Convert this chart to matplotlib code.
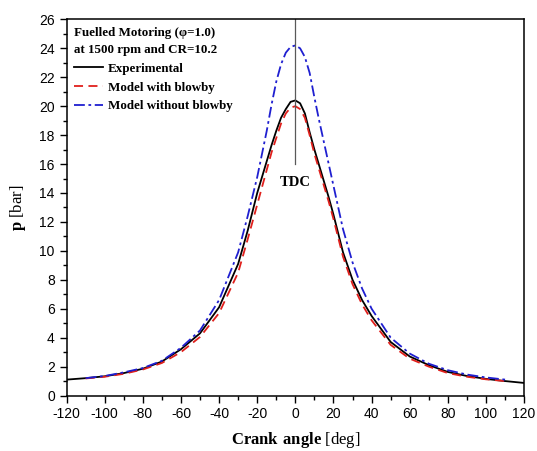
### in-cylinder pressure vs crank angle, fuelled motoring case
import numpy as np
import matplotlib.pyplot as plt

plt.rcParams['mathtext.fontset'] = 'custom'
plt.rcParams['mathtext.rm'] = 'Liberation Serif'
plt.rcParams['mathtext.bf'] = 'Liberation Serif:bold'
plt.rcParams['axes.unicode_minus'] = False

# measured trace
exp_ca = [-120, -110, -100, -90, -80, -70, -60, -50, -40, -30, -25, -20, -17.5, -15, -12.5,
          -10, -7.5, -5, -2.5, 0, 2.5, 5, 7.5, 10, 12.5, 15, 17.5, 20, 25, 30, 35, 40,
          50, 60, 70, 80, 90, 100, 110, 120]
exp_p = [1.1, 1.2, 1.33, 1.55, 1.85, 2.35, 3.2, 4.3, 6.1, 9.1, 11.4, 14.0, 15.1, 16.2, 17.3,
         18.3, 19.2, 19.8, 20.3, 20.4, 20.2, 19.5, 18.2, 17.0, 15.9, 14.8, 13.7, 12.5, 9.9, 8.0, 6.6, 5.5,
         3.7, 2.7, 2.1, 1.63, 1.35, 1.15, 1.0, 0.87]

# model including blowby losses
blow_ca = [-110, -100, -90, -80, -70, -60, -50, -40, -30, -25, -20, -17.5, -15, -12.5,
           -10, -7.5, -5, -2.5, 0, 2.5, 5, 7.5, 10, 12.5, 15, 17.5, 20, 25, 30, 35, 40,
           50, 60, 70, 80, 90, 100, 110]
blow_p = [1.18, 1.3, 1.5, 1.8, 2.25, 3.0, 4.05, 5.7, 8.5, 10.8, 13.2, 14.4, 15.6, 16.8,
          17.8, 18.8, 19.5, 19.9, 20.0, 19.8, 19.2, 18.0, 16.7, 15.6, 14.5, 13.4, 12.2, 9.6, 7.7, 6.3, 5.2,
          3.5, 2.55, 2.0, 1.55, 1.3, 1.12, 1.0]

# model without blowby
noblow_ca = [-110, -100, -90, -80, -70, -60, -50, -40, -30, -25, -20, -17.5, -15, -12.5,
             -10, -7.5, -5, -2.5, 0, 2.5, 5, 7.5, 10, 12.5, 15, 17.5, 20, 25, 30, 35, 40,
             50, 60, 70, 80, 90, 100, 110]
noblow_p = [1.2, 1.35, 1.6, 1.9, 2.4, 3.3, 4.5, 6.6, 9.9, 12.4, 15.1, 16.7, 18.3, 20.1,
            21.7, 22.9, 23.7, 24.1, 24.2, 24.0, 23.4, 22.3, 20.6, 19.0, 17.5, 16.0, 14.5, 11.5, 9.2, 7.4, 6.0,
            4.0, 2.9, 2.2, 1.75, 1.45, 1.25, 1.1]

fig = plt.figure(figsize=(5.37, 4.51), dpi=100)
ax = fig.add_axes([0.124, 0.123, 0.852, 0.834])

ax.plot(exp_ca, exp_p, color='black', lw=1.3, label='Experimental')
ax.plot(blow_ca, blow_p, color='#e0201c', lw=1.3, ls=(0, (5, 3)), label='Model with blowby')
ax.plot(noblow_ca, noblow_p, color='#1f1fd0', lw=1.3, ls=(0, (6, 2, 1.5, 2)), label='Model without blowby')

### TDC marker
ax.plot([0, 0], [16, 26], color='0.35', lw=0.9)
ax.text(0, 14.75, 'TDC', ha='center', va='center', fontsize=10.5, fontweight='bold',
        family='Liberation Serif')

ax.set_xlim(-120, 120)
ax.set_ylim(0, 26)
ax.set_xticks(np.arange(-120, 121, 20))
ax.set_xticks(np.arange(-120, 121, 10), minor=True)
ax.set_yticks(np.arange(0, 27, 2))
ax.set_yticks(np.arange(0, 27, 1), minor=True)
ax.tick_params(which='major', direction='out', length=5, width=1, labelsize=10)
ax.tick_params(which='minor', direction='out', length=3, width=1)
for lab in ax.get_xticklabels() + ax.get_yticklabels():
    lab.set_family('Liberation Sans')
for sp in ax.spines.values():
    sp.set_linewidth(1.1)

ax.set_xlabel(r'$\mathbf{Crank\ angle}$ [deg]', family='Liberation Serif', fontsize=12, labelpad=6)
ax.set_ylabel(r'$\mathbf{p}$ [bar]', family='Liberation Serif', fontsize=12, labelpad=8)

leg = ax.legend(title='Fuelled Motoring (φ=1.0)\nat 1500 rpm and CR=10.2', loc='upper left',
                frameon=False, alignment='left', handlelength=2.2, handletextpad=0.35,
                labelspacing=0.5, borderaxespad=0.3, borderpad=0.3,
                prop={'family': 'Liberation Serif', 'weight': 'bold', 'size': 9.4})
leg.get_title().set_fontproperties({'family': 'Liberation Serif', 'weight': 'bold', 'size': 9.4})
leg.get_title().set_linespacing(1.55)

plt.savefig('out.png', dpi=100)
